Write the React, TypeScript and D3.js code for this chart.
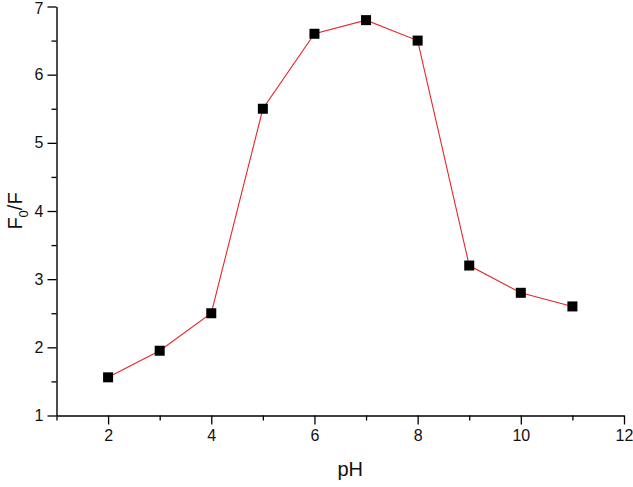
import * as d3 from "d3";
import React, { useEffect, useRef } from "react";

// pH sweep, F0/F readings
const phValues = [2, 3, 4, 5, 6, 7, 8, 9, 10, 11];
const ratioValues = [1.56, 1.95, 2.5, 5.5, 6.6, 6.8, 6.5, 3.2, 2.8, 2.6];
const xTicks = [1, 2, 3, 4, 5, 6, 7, 8, 9, 10, 11, 12];
const xLabeled = [2, 4, 6, 8, 10, 12];
const yTicks = [1, 1.5, 2, 2.5, 3, 3.5, 4, 4.5, 5, 5.5, 6, 6.5, 7];
const yLabeled = [1, 2, 3, 4, 5, 6, 7];

export default function App() {
  const svgRef = useRef<SVGSVGElement>(null);
  const width = 633;
  const height = 487;
  const margin = { top: 6.5, right: 9, bottom: 71.5, left: 56.5 };

  useEffect(() => {
    document.body.style.margin = "0";
    const svg = d3.select(svgRef.current);
    svg.selectAll("*").remove();

    const font = "'Liberation Sans', Arial, sans-serif";

    const x = d3
      .scaleLinear()
      .domain([1, 12])
      .range([margin.left, width - margin.right]);
    const y = d3
      .scaleLinear()
      .domain([1, 7])
      .range([height - margin.bottom, margin.top]);

    const data = phValues.map((p, i) => ({ ph: p, v: ratioValues[i] }));

    // x axis: labelled major ticks, unlabelled minor ones
    const xAxis = d3
      .axisBottom(x)
      .tickValues(xTicks)
      .tickFormat((d) => (xLabeled.includes(+d) ? String(d) : ""))
      .tickSize(9)
      .tickSizeOuter(0)
      .tickPadding(5);
    const gx = svg
      .append("g")
      .attr("transform", `translate(0,${height - margin.bottom})`)
      .call(xAxis);
    gx.selectAll(".tick line")
      .filter((d: any) => !xLabeled.includes(d))
      .attr("y2", 5);
    gx.selectAll(".tick text").style("font-size", "16px").style("font-family", font).attr("fill", "#111");

    // y axis
    const yAxis = d3
      .axisLeft(y)
      .tickValues(yTicks)
      .tickFormat((d) => (yLabeled.includes(+d) ? String(d) : ""))
      .tickSize(9)
      .tickSizeOuter(0)
      .tickPadding(4);
    const gy = svg.append("g").attr("transform", `translate(${margin.left},0)`).call(yAxis);
    gy.selectAll(".tick line")
      .filter((d: any) => !yLabeled.includes(d))
      .attr("x2", -5);
    gy.selectAll(".tick text").style("font-size", "16px").style("font-family", font).attr("fill", "#111");
    // top label sits at the very edge, nudge it down a bit
    gy.selectAll(".tick text")
      .filter((d: any) => d === 7)
      .attr("dy", "0.45em");

    svg.selectAll(".domain").attr("stroke", "#000").attr("stroke-width", 1.4);
    svg.selectAll(".tick line").attr("stroke", "#000").attr("stroke-width", 1.3);

    // line
    const line = d3
      .line<{ ph: number; v: number }>()
      .x((d) => x(d.ph))
      .y((d) => y(d.v));
    svg
      .append("path")
      .datum(data)
      .attr("d", line)
      .attr("fill", "none")
      .attr("stroke", "#e8252b")
      .attr("stroke-width", 1.1);

    // markers
    const s = 10;
    svg
      .append("g")
      .selectAll("rect")
      .data(data)
      .join("rect")
      .attr("x", (d) => x(d.ph) - s / 2)
      .attr("y", (d) => y(d.v) - s / 2)
      .attr("width", s)
      .attr("height", s)
      .attr("fill", "#000");

    // axis titles
    svg
      .append("text")
      .attr("x", (margin.left + width - margin.right) / 2 + 10)
      .attr("y", 476)
      .attr("text-anchor", "middle")
      .style("font-family", font)
      .style("font-size", "20px")
      .attr("fill", "#111")
      .text("pH");

    const yt = svg
      .append("text")
      .attr("transform", `translate(22,${y(4)}) rotate(-90)`)
      .attr("text-anchor", "middle")
      .style("font-family", font)
      .style("font-size", "20px")
      .attr("fill", "#111");
    yt.append("tspan").text("F");
    yt.append("tspan").attr("dy", 6).style("font-size", "13px").text("0");
    yt.append("tspan").attr("dy", -6).text("/F");
  }, []);

  return <svg ref={svgRef} width={width} height={height} style={{ display: "block", background: "#fff" }}></svg>;
}
